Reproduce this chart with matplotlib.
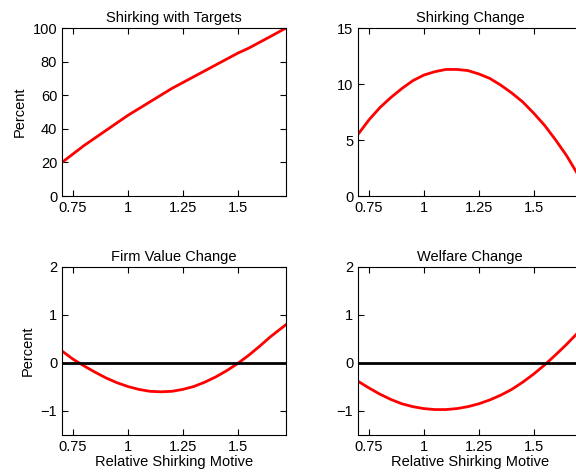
import numpy as np
import matplotlib
matplotlib.use('Agg')
import matplotlib.pyplot as plt

plt.rcParams['font.family'] = ['Liberation Sans', 'DejaVu Sans']
plt.rcParams['font.size'] = 10.5

x = [0.70, 0.75, 0.80, 0.85, 0.90, 0.95, 1.00, 1.05, 1.10, 1.15, 1.20, 1.25,
     1.30, 1.35, 1.40, 1.45, 1.50, 1.55, 1.60, 1.65, 1.72]
shirk_targets = [20, 25, 30, 34.5, 39, 43.5, 48, 52, 56, 60, 64, 67.5,
                 71, 74.5, 78, 81.5, 85, 88, 91.5, 95, 100]
shirk_change = [5.5, 6.8, 7.9, 8.8, 9.6, 10.3, 10.8, 11.1, 11.3, 11.3, 11.2, 10.9,
                10.5, 9.9, 9.2, 8.4, 7.4, 6.3, 5.0, 3.6, 1.3]
firm_value = [0.25, 0.08, -0.06, -0.19, -0.31, -0.41, -0.49, -0.55, -0.59, -0.60, -0.59, -0.55,
              -0.49, -0.40, -0.29, -0.16, -0.01, 0.16, 0.35, 0.55, 0.80]
welfare = [-0.38, -0.52, -0.65, -0.76, -0.85, -0.91, -0.95, -0.97, -0.97, -0.95, -0.91, -0.85,
           -0.77, -0.67, -0.55, -0.40, -0.23, -0.04, 0.17, 0.39, 0.72]

fig = plt.figure(figsize=(5.76, 4.76), dpi=100)
W, H = 576, 476
def ax_at(l, t, r, b):
    return fig.add_axes([l / W, 1 - b / H, (r - l) / W, (b - t) / H])

axes = [ax_at(62, 28, 286, 196), ax_at(358, 28, 582, 196),
        ax_at(62, 267, 286, 435), ax_at(358, 267, 582, 435)]
titles = ['Shirking with Targets', 'Shirking Change', 'Firm Value Change', 'Welfare Change']
data = [shirk_targets, shirk_change, firm_value, welfare]

for i, ax in enumerate(axes):
    ax.plot(x, data[i], color='red', lw=2)
    ax.set_xlim(0.7, 1.72)
    ax.set_xticks([0.75, 1, 1.25, 1.5])
    ax.set_xticklabels(['0.75', '1', '1.25', '1.5'])
    ax.tick_params(direction='in', length=4, top=True, right=True)
    ax.set_title(titles[i], fontsize=10.5, pad=4)
    if i >= 2:
        ax.axhline(0, color='black', lw=2)
        ax.set_ylim(-1.5, 2)
        ax.set_yticks([-1, 0, 1, 2])
        ax.set_yticklabels(['\u22121', '0', '1', '2'])
        ax.set_xlabel('Relative Shirking Motive', labelpad=1)

axes[0].set_ylim(0, 100)
axes[0].set_yticks(range(0, 101, 20))
axes[1].set_ylim(0, 15)
axes[1].set_yticks([0, 5, 10, 15])
axes[0].set_ylabel('Percent')
axes[2].set_ylabel('Percent')

fig.savefig('out.png', dpi=100)
